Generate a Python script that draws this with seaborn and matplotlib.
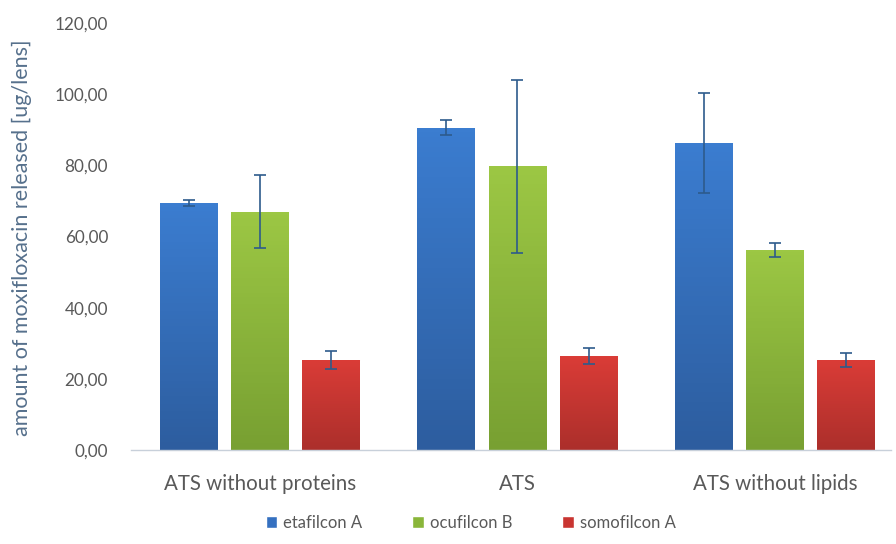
import numpy as np
import pandas as pd
import matplotlib
matplotlib.use("Agg")
import matplotlib.pyplot as plt
import matplotlib.colors as mcolors
import seaborn as sns

categories = ["ATS without proteins", "ATS", "ATS without lipids"]
series = ["etafilcon A", "ocufilcon B", "somofilcon A"]
etafilcon = [69.4, 90.6, 86.3]
ocufilcon = [67.0, 79.8, 56.3]
somofilcon = [25.3, 26.4, 25.3]
err_etafilcon = [0.8, 2.2, 14.0]
err_ocufilcon = [10.3, 24.3, 2.0]
err_somofilcon = [2.6, 2.3, 2.0]
yticks = [0, 20, 40, 60, 80, 100, 120]

values = [etafilcon, ocufilcon, somofilcon]
errors = [err_etafilcon, err_ocufilcon, err_somofilcon]
rows = []
for s, vals, errs in zip(series, values, errors):
    for c, v, e in zip(categories, vals, errs):
        rows.append({"category": c, "series": s, "value": v, "err": e})
df = pd.DataFrame(rows)

sns.set_theme(style="white")
plt.rcParams['font.family'] = ['Lato', 'DejaVu Sans']

palette = {"etafilcon A": "#3570c0", "ocufilcon B": "#8ab63a", "somofilcon A": "#c93531"}
grad = {
    "etafilcon A": ("#3b7dd0", "#2d5d9f"),
    "ocufilcon B": ("#9cc744", "#78a032"),
    "somofilcon A": ("#da3c37", "#ac2f2b"),
}

fig = plt.figure(figsize=(8.96, 5.44), dpi=100)
ax = fig.add_axes([131/896, 1-450/544, 760/896, 427/544])

sns.barplot(data=df, x="category", y="value", hue="series", order=categories,
            hue_order=series, palette=palette, width=0.83, gap=0.19,
            errorbar=None, ax=ax, saturation=1)

# gradients and error bars
for h, (s, cont) in enumerate(zip(series, ax.containers)):
    top, bot = grad[s]
    cmap = mcolors.LinearSegmentedColormap.from_list("g", [bot, top])
    for c, bar in enumerate(cont):
        x0, w, y0, hgt = bar.get_x(), bar.get_width(), bar.get_y(), bar.get_height()
        img = np.linspace(1, 0, 64).reshape(-1, 1)
        im = ax.imshow(img, cmap=cmap, extent=[x0, x0 + w, y0, y0 + hgt],
                       aspect="auto", origin="upper", zorder=bar.get_zorder() + 0.1)
        im.set_clip_path(bar)
        ax.errorbar(x0 + w / 2, values[h][c], yerr=errors[h][c], fmt="none",
                    ecolor="#2d5b8c", elinewidth=1.2, capsize=4.5, capthick=1.2, zorder=5)

ax.set_xlim(-0.5, 2.45)
ax.set_ylim(0, 120)
ax.set_yticks(yticks)
ax.set_yticklabels([f"{v:.2f}".replace(".", ",") for v in yticks])
ax.set_xlabel("")
ax.set_ylabel("amount of moxifloxacin released [ug/lens]", fontsize=15.5, color="#56708c")
ax.yaxis.set_label_coords(-0.130, 0.497)
ax.tick_params(axis="both", length=0, labelcolor="#595959")
ax.tick_params(axis="y", labelsize=12.3, pad=16.5)
ax.tick_params(axis="x", labelsize=14.8, pad=17)
for side in ["top", "right", "left"]:
    ax.spines[side].set_visible(False)
ax.spines["bottom"].set_color("#c8d0da")
ax.spines["bottom"].set_linewidth(1)

sns.move_legend(ax, "center", bbox_to_anchor=(0.447, -0.17), ncol=3, frameon=False,
                title=None, fontsize=12, handlelength=0.7, handleheight=0.7,
                columnspacing=3.0, handletextpad=0.35)
for t in ax.get_legend().get_texts():
    t.set_color("#595959")

fig.savefig("out.png", dpi=100)
